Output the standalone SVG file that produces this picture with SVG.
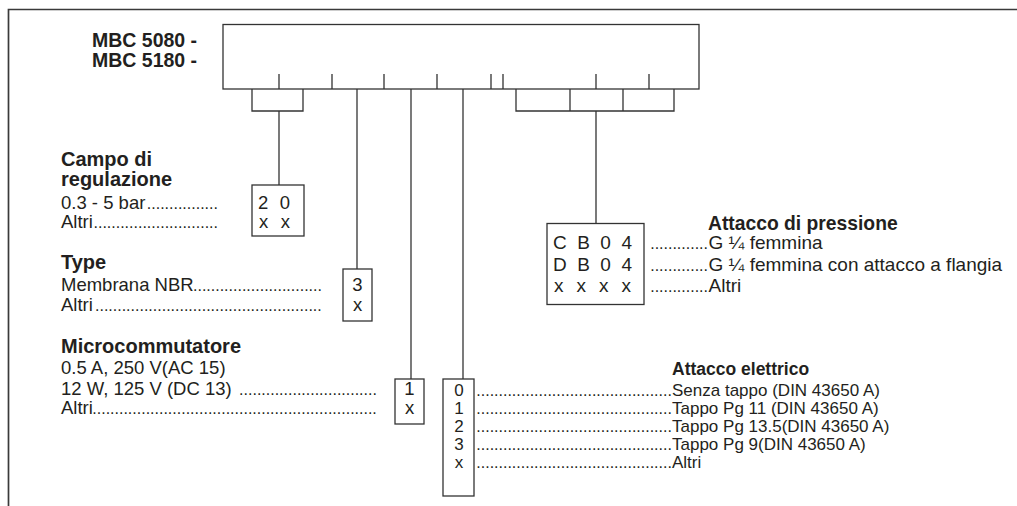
<svg xmlns="http://www.w3.org/2000/svg" width="1017" height="506" viewBox="0 0 1017 506">
<style>
.ln{fill:none;stroke:#333;stroke-width:1.3}
.bx{fill:none;stroke:#333;stroke-width:1.3}
.fr{fill:none;stroke:#3a3a3a;stroke-width:1.7}
text{font-family:"Liberation Sans",Arial,sans-serif;fill:#231f20}
.hb{font-weight:bold;font-size:19.5px}
.b{font-weight:bold;font-size:20px}
.r{font-size:18.5px}
.d{font-size:16px}
.eb{font-weight:bold;font-size:17.5px}
.er{font-size:17px}
.pb{font-weight:bold;font-size:19.3px}
.pr{font-size:19px}
.m{text-anchor:middle}
</style>
<rect width="1017" height="506" fill="#fff"/>
<path class="fr" d="M1017,9.5H8.5V506"/>

<g id="header">
<text class="hb" x="92" y="47">MBC 5080 -</text>
<text class="hb" x="92" y="67">MBC 5180 -</text>
<rect class="bx" x="223" y="24.5" width="476" height="64.5"/>
<path class="ln" d="M279,74V89M332,74V89M384,74V89M437,74V89M491,74V89M503,74V89M596,74V89M649,74V89"/>
</g>

<g id="connectors">
<path class="ln" d="M252,89V111H303V89M279,111V185"/>
<path class="ln" d="M357,89V269"/>
<path class="ln" d="M411,89V379"/>
<path class="ln" d="M463,89V379"/>
<path class="ln" d="M516,89V111H674V89M570,89V111M623,89V111M596,111V223.5"/>
</g>

<g id="campo">
<text class="b" x="61" y="166">Campo di</text>
<text class="b" x="61" y="186">regulazione</text>
<text class="r" x="61" y="209">0.3 - 5 bar<tspan class="d" x="146.8">................</tspan></text>
<text class="r" x="61" y="228">Altri<tspan class="d" x="93.5">............................</tspan></text>
<rect class="bx" x="252" y="185" width="52" height="51"/>
<text class="r" x="258" y="209" textLength="32" lengthAdjust="spacing">2 0</text>
<text class="r" x="259" y="228" textLength="31" lengthAdjust="spacing">x x</text>
</g>

<g id="type">
<text class="b" x="61" y="269">Type</text>
<text class="r" x="61" y="291">Membrana NBR<tspan class="d" x="193">.............................</tspan></text>
<text class="r" x="61" y="311">Altri<tspan class="d" x="95">...................................................</tspan></text>
<rect class="bx" x="343" y="269" width="29" height="52"/>
<text class="r m" x="357.5" y="291">3</text>
<text class="r m" x="357.5" y="311">x</text>
</g>

<g id="micro">
<text class="b" x="61" y="353">Microcommutatore</text>
<text class="r" x="61" y="374">0.5 A, 250 V(AC 15)</text>
<text class="r" x="61" y="395">12 W, 125 V (DC 13) <tspan class="d" x="239.1">...............................</tspan></text>
<text class="r" x="61" y="414">Altri<tspan class="d" x="92.3">................................................................</tspan></text>
<rect class="bx" x="395" y="379" width="29" height="45"/>
<text class="r m" x="409.5" y="395">1</text>
<text class="r m" x="409.5" y="414">x</text>
</g>

<g id="elettrico">
<text class="eb" x="672" y="375">Attacco elettrico</text>
<rect class="bx" x="443" y="379" width="31" height="117"/>
<text class="er m" x="459" y="396">0</text>
<text class="er m" x="459" y="414">1</text>
<text class="er m" x="459" y="432">2</text>
<text class="er m" x="459" y="450">3</text>
<text class="er m" x="459" y="468">x</text>
<text class="er" y="396"><tspan class="d" x="476.3">............................................</tspan><tspan x="672">Senza tappo (DIN 43650 A)</tspan></text>
<text class="er" y="414"><tspan class="d" x="476.3">............................................</tspan><tspan x="672">Tappo Pg 11 (DIN 43650 A)</tspan></text>
<text class="er" y="432"><tspan class="d" x="476.3">............................................</tspan><tspan x="672">Tappo Pg 13.5(DIN 43650 A)</tspan></text>
<text class="er" y="450"><tspan class="d" x="476.3">............................................</tspan><tspan x="672">Tappo Pg 9(DIN 43650 A)</tspan></text>
<text class="er" y="468"><tspan class="d" x="476.3">............................................</tspan><tspan x="672">Altri</tspan></text>
</g>

<g id="pressione">
<text class="pb" x="708" y="230">Attacco di pressione</text>
<rect class="bx" x="547" y="223.5" width="97" height="81"/>
<text class="pr" x="553" y="249" textLength="79" lengthAdjust="spacing">C B 0 4</text>
<text class="pr" x="553" y="271" textLength="79" lengthAdjust="spacing">D B 0 4</text>
<text class="pr" x="554" y="292" textLength="77" lengthAdjust="spacing">x x x x</text>
<text class="pr" y="249"><tspan class="d" x="650.2">.............</tspan><tspan x="708.5">G ¼ femmina</tspan></text>
<text class="pr" y="271"><tspan class="d" x="650.2">.............</tspan><tspan x="708.5">G ¼ femmina con attacco a flangia</tspan></text>
<text class="pr" y="292"><tspan class="d" x="650.2">.............</tspan><tspan x="708.5">Altri</tspan></text>
</g>
</svg>
